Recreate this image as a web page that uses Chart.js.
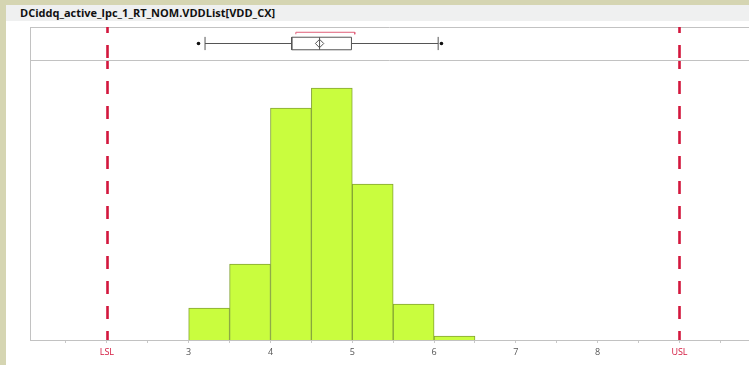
<!DOCTYPE html>
<html>
<head>
<meta charset="utf-8">
<script src="https://cdn.jsdelivr.net/npm/chart.js@4.4.1/dist/chart.umd.min.js"></script>
<style>
  html, body { margin: 0; padding: 0; }
  body { width: 749px; height: 365px; background: #d5d5b2; position: relative; overflow: hidden; }
  #panel { position: absolute; left: 6px; top: 5px; width: 743px; height: 360px; background: #ffffff; }
  #title { position: absolute; left: 0; top: 0; width: 743px; height: 16px; box-sizing: border-box;
           padding-left: 14px; background: #eff0f0; color: #111;
           font: bold 11px "Open Sans", sans-serif; line-height: 16px; white-space: nowrap; }
  #chart { position: absolute; left: 0; top: 16px; }
</style>
</head>
<body>
<div id="panel">
  <div id="title">DCiddq_active_lpc_1_RT_NOM.VDDList[VDD_CX]</div>
  <canvas id="chart" width="743" height="344"></canvas>
</div>
<script>
// Histogram bins (left edge of each bin) and counts
const binStarts = [3, 3.5, 4, 4.5, 5, 5.5, 6];
const binWidth = 0.5;
const counts = [8, 19, 58, 63, 39, 9, 1];

// Specification limits
const LSL = 2;
const USL = 9;

// Outlier box plot summary
const whiskers = [3.2, 6.05];
const quartiles = [4.26, 4.99];
const median = 4.6;
const mean = 4.6;
const outliers = [3.12, 6.09];
const shortestHalf = [4.31, 5.03];

// Axis range
const xRange = [1.06, 9.85];
const countMax = 70;

const GRAY = '#555555';
const BOX_H = 0.38;      // half height of the box in the box-plot strip
const CAP_H = 0.4;       // half height of the whisker caps
const BRACKET_Y = 0.68;  // shortest-half bracket level

const histData = binStarts.map((s, i) => ({ x: s + binWidth / 2, y: counts[i] }));

function lineSet(points, color) {
  return {
    type: 'line', yAxisID: 'yBox', data: points, borderColor: color, borderWidth: 1,
    pointRadius: 0, tension: 0, fill: false, spanGaps: false, order: 1
  };
}

const whiskerLine = lineSet([
  { x: whiskers[0], y: 0 }, { x: quartiles[0], y: 0 }, { x: median, y: null },
  { x: quartiles[1], y: 0 }, { x: whiskers[1], y: 0 }
], GRAY);
const capLines = lineSet([
  { x: whiskers[0], y: -CAP_H }, { x: whiskers[0], y: CAP_H }, { x: median, y: null },
  { x: whiskers[1], y: -CAP_H }, { x: whiskers[1], y: CAP_H }
], GRAY);
const boxLine = lineSet([
  { x: quartiles[0], y: -BOX_H }, { x: quartiles[1], y: -BOX_H }, { x: quartiles[1], y: BOX_H },
  { x: quartiles[0], y: BOX_H }, { x: quartiles[0], y: -BOX_H }
], GRAY);
const medianLine = lineSet([{ x: median, y: -BOX_H }, { x: median, y: BOX_H }], GRAY);
const bracketLine = lineSet([
  { x: shortestHalf[0], y: BRACKET_Y - 0.12 }, { x: shortestHalf[0], y: BRACKET_Y },
  { x: shortestHalf[1], y: BRACKET_Y }, { x: shortestHalf[1], y: BRACKET_Y - 0.12 }
], '#e0607a');

const meanDiamond = {
  type: 'scatter', yAxisID: 'yBox', data: [{ x: mean, y: 0 }], order: 0,
  pointStyle: 'rectRot', pointRadius: 4.2, borderWidth: 1, borderColor: GRAY,
  backgroundColor: 'rgba(255,255,255,0)'
};
const outlierDots = {
  type: 'scatter', yAxisID: 'yBox', data: outliers.map(v => ({ x: v, y: 0 })), order: 0,
  pointStyle: 'circle', pointRadius: 1.8, borderWidth: 0, backgroundColor: '#111111'
};

// Panel frame and dashed spec-limit lines
const framePlugin = {
  id: 'frame',
  afterDatasetsDraw(chart) {
    const { ctx, chartArea, scales } = chart;
    const x = scales.x, yH = scales.y, yB = scales.yBox;
    ctx.save();
    ctx.strokeStyle = '#c2c2c2';
    ctx.lineWidth = 1;
    ctx.beginPath();
    const top = Math.round(yB.top) + 0.5;
    const sep = Math.round(yB.bottom) + 0.5;
    ctx.moveTo(chartArea.left, top); ctx.lineTo(chartArea.right, top);
    ctx.moveTo(chartArea.left, sep); ctx.lineTo(chartArea.right, sep);
    ctx.stroke();

    ctx.strokeStyle = '#d3173d';
    ctx.lineWidth = 2.6;
    ctx.setLineDash([13, 12]);
    [LSL, USL].forEach(v => {
      const px = Math.round(x.getPixelForValue(v)) + 0.5;
      ctx.lineDashOffset = 7;
      ctx.beginPath(); ctx.moveTo(px, yB.top); ctx.lineTo(px, yB.bottom); ctx.stroke();
      ctx.lineDashOffset = 5;
      ctx.beginPath(); ctx.moveTo(px, yH.top + 1); ctx.lineTo(px, yH.bottom); ctx.stroke();
    });
    ctx.restore();
  }
};

const zeroWidth = s => { s.width = 0; };

new Chart(document.getElementById('chart'), {
  type: 'bar',
  data: {
    datasets: [
      {
        type: 'bar', xAxisID: 'x', yAxisID: 'y', data: histData, order: 2,
        backgroundColor: '#c9fd3e', borderColor: '#83a334', borderWidth: 1,
        barPercentage: 1, categoryPercentage: 1, grouped: false
      },
      whiskerLine, capLines, boxLine, medianLine, bracketLine, meanDiamond, outlierDots
    ]
  },
  options: {
    responsive: false,
    animation: false,
    events: [],
    layout: { padding: { left: 24, top: 6, right: 0, bottom: 0 }, autoPadding: false },
    plugins: { legend: { display: false }, tooltip: { enabled: false }, title: { display: false } },
    scales: {
      x: {
        type: 'linear', position: 'bottom', min: xRange[0], max: xRange[1], offset: false,
        afterBuildTicks(scale) {
          const t = [];
          for (let v = 1.5; v <= xRange[1]; v += 0.5) t.push({ value: v });
          scale.ticks = t;
        },
        afterFit(scale) { scale.height = 25; scale.paddingLeft = 0; scale.paddingRight = 0; },
        ticks: {
          autoSkip: false, maxRotation: 0, padding: 4,
          font: { family: 'Open Sans', size: 9 },
          color: c => (c.tick && (c.tick.value === LSL || c.tick.value === USL)) ? '#d3173d' : '#555555',
          callback: v => v === LSL ? 'LSL' : v === USL ? 'USL' : (Number.isInteger(v) ? String(v) : '')
        },
        grid: { drawOnChartArea: false, offset: false, tickLength: 3, color: '#c8c8c8' },
        border: { color: '#c2c2c2' }
      },
      yBox: {
        type: 'linear', position: 'left', min: -1, max: 1, stack: 'panels', stackWeight: 33, weight: 1,
        afterFit: zeroWidth,
        ticks: { display: false }, grid: { display: false }, border: { color: '#c2c2c2' }
      },
      y: {
        type: 'linear', position: 'left', min: 0, max: countMax, stack: 'panels', stackWeight: 280, weight: 0,
        afterFit: zeroWidth,
        ticks: { display: false }, grid: { display: false }, border: { color: '#c2c2c2' }
      }
    }
  },
  plugins: [framePlugin]
});
</script>
</body>
</html>
